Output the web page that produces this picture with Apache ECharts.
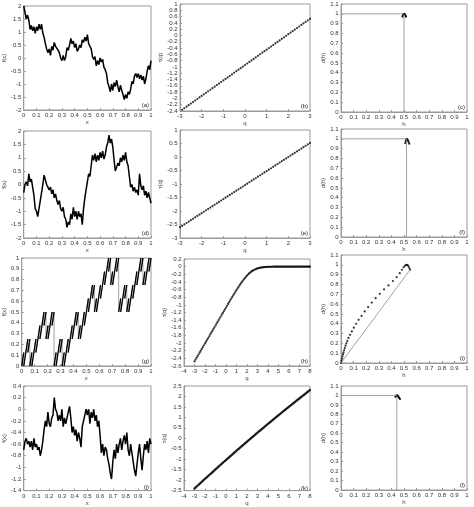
<!DOCTYPE html>
<html><head><meta charset="utf-8">
<script src="https://cdn.jsdelivr.net/npm/echarts/dist/echarts.min.js"></script>
<style>html,body{margin:0;padding:0;background:#fff}#c{width:474px;height:507px}</style>
</head><body><div id="c"></div><script>
// ---------- data ----------
const xFine = [0,0.01,0.02,0.03,0.04,0.05,0.06,0.07,0.08,0.09,0.1,0.11,0.12,0.13,0.14,0.15,0.16,0.17,0.18,0.19,0.2,0.21,0.22,0.23,0.24,0.25,0.26,0.27,0.28,0.29,0.3,0.31,0.32,0.33,0.34,0.35,0.36,0.37,0.38,0.39,0.4,0.41,0.42,0.43,0.44,0.45,0.46,0.47,0.48,0.49,0.5,0.51,0.52,0.53,0.54,0.55,0.56,0.57,0.58,0.59,0.6,0.61,0.62,0.63,0.64,0.65,0.66,0.67,0.68,0.69,0.7,0.71,0.72,0.73,0.74,0.75,0.76,0.77,0.78,0.79,0.8,0.81,0.82,0.83,0.84,0.85,0.86,0.87,0.88,0.89,0.9,0.91,0.92,0.93,0.94,0.95,0.96,0.97,0.98,0.99,1];
const fA = [2.0,1.75,1.5,1.65,1.45,1.1,1.25,1.05,1.2,0.95,1.2,1.05,1.3,1.1,1.3,0.95,0.8,0.55,0.35,0.2,0.35,0.1,0.45,0.3,0.6,0.45,0.5,0.3,0.2,0.0,-0.1,0.1,-0.1,0.05,0.4,0.3,0.5,0.75,0.55,0.65,0.4,0.55,0.25,0.35,0.5,0.4,0.7,0.6,0.8,0.65,0.9,0.55,0.6,0.35,0.05,-0.05,0.05,-0.3,-0.1,-0.25,0.0,-0.15,-0.05,-0.35,-0.45,-0.6,-0.95,-1.1,-1.3,-1.0,-1.25,-0.95,-1.1,-0.85,-1.1,-1.3,-1.05,-1.25,-1.4,-1.6,-1.4,-1.55,-1.3,-1.4,-1.2,-0.9,-1.0,-0.7,-0.6,-0.75,-0.6,-0.8,-0.65,-0.85,-0.7,-1.0,-0.8,-0.5,-0.3,-0.45,-0.1];
const fD = [-0.3,0.0,0.1,-0.05,0.4,0.1,0.2,-0.1,-0.4,-0.9,-1.0,-1.2,-0.9,-0.6,-0.3,0.0,0.35,0.3,0.0,-0.1,-0.2,-0.1,-0.35,-0.2,-0.5,-0.35,-0.6,-0.75,-0.6,-0.9,-1.0,-0.85,-1.2,-1.3,-1.6,-1.4,-1.5,-1.1,-1.3,-0.85,-1.2,-1.0,-1.3,-1.0,-1.2,-1.1,-1.5,-0.9,-0.5,-0.2,0.1,0.4,0.3,0.7,1.1,0.9,1.15,0.85,1.1,0.9,1.2,1.0,1.25,0.95,1.1,1.4,1.55,1.85,1.55,1.7,1.4,0.9,0.5,0.65,0.8,0.7,1.0,0.85,1.1,0.9,1.2,0.85,0.7,0.3,-0.1,0.0,-0.25,-0.1,-0.3,-0.2,-0.4,0.4,-0.05,-0.2,-0.05,-0.4,-0.25,-0.5,-0.3,-0.5,-0.7];
const fJ = [-0.7,-0.55,-0.5,-0.6,-0.55,-0.65,-0.55,-0.7,-0.5,-0.65,-0.6,-0.7,-0.65,-0.8,-0.7,-0.55,-0.35,-0.2,-0.3,-0.05,-0.25,-0.3,-0.15,-0.1,0.2,0.0,-0.05,-0.2,-0.1,-0.2,0.0,-0.3,-0.15,-0.25,-0.15,-0.05,0.05,-0.15,-0.4,-0.3,-0.45,-0.35,-0.55,-0.4,-0.5,-0.65,-0.3,-0.2,-0.1,0.0,-0.1,0.0,-0.25,-0.05,-0.15,0.0,-0.2,-0.1,-0.3,-0.2,-0.45,-0.75,-0.6,-0.8,-0.65,-0.7,-0.85,-0.95,-1.1,-1.2,-0.9,-0.7,-0.85,-0.6,-0.75,-0.6,-0.5,-0.7,-0.55,-0.45,-0.6,-0.4,-0.7,-0.8,-0.6,-0.75,-0.9,-1.05,-1.15,-0.95,-0.75,-0.6,-0.85,-1.05,-0.8,-0.6,-0.7,-0.55,-0.75,-0.5,-0.6];
// panel (g): column edges and the low / high end of each dark bar
const gX = [0,0.0156,0.0313,0.0469,0.0625,0.0781,0.0938,0.1094,0.125,0.1406,0.1563,0.1719,0.1875,0.2031,0.2188,0.2344,0.25,0.2656,0.2813,0.2969,0.3125,0.3281,0.3438,0.3594,0.375,0.3906,0.4063,0.4219,0.4375,0.4531,0.4688,0.4844,0.5,0.5156,0.5313,0.5469,0.5625,0.5781,0.5938,0.6094,0.625,0.6406,0.6563,0.6719,0.6875,0.7031,0.7188,0.7344,0.75,0.7656,0.7813,0.7969,0.8125,0.8281,0.8438,0.8594,0.875,0.8906,0.9063,0.9219,0.9375,0.9531,0.9688,0.9844,1];
const gLow = [0,0,0.125,0.125,0,0,0.125,0.125,0.25,0.25,0.375,0.375,0.25,0.25,0.375,0.375,
              0,0,0.125,0.125,0,0,0.125,0.125,0.25,0.25,0.375,0.375,0.25,0.25,0.375,0.375,
              0.5,0.5,0.625,0.625,0.5,0.5,0.625,0.625,0.75,0.75,0.875,0.875,0.75,0.75,0.875,0.875,
              0.5,0.5,0.625,0.625,0.5,0.5,0.625,0.625,0.75,0.75,0.875,0.875,0.75,0.75,0.875,0.875];
const gHigh = [0.125,0.125,0.25,0.25,0.125,0.125,0.25,0.25,0.375,0.375,0.5,0.5,0.375,0.375,0.5,0.5,
               0.125,0.125,0.25,0.25,0.125,0.125,0.25,0.25,0.375,0.375,0.5,0.5,0.375,0.375,0.5,0.5,
               0.625,0.625,0.75,0.75,0.625,0.625,0.75,0.75,0.875,0.875,1,1,0.875,0.875,1,1,
               0.625,0.625,0.75,0.75,0.625,0.625,0.75,0.75,0.875,0.875,1,1,0.875,0.875,1,1];
// q values
const qLong = [-3,-2.9,-2.8,-2.7,-2.6,-2.5,-2.4,-2.3,-2.2,-2.1,-2,-1.9,-1.8,-1.7,-1.6,-1.5,-1.4,-1.3,-1.2,-1.1,-1,-0.9,-0.8,-0.7,-0.6,-0.5,-0.4,-0.3,-0.2,-0.1,0,0.1,0.2,0.3,0.4,0.5,0.6,0.7,0.8,0.9,1,1.1,1.2,1.3,1.4,1.5,1.6,1.7,1.8,1.9,2,2.1,2.2,2.3,2.4,2.5,2.6,2.7,2.8,2.9,3,3.1,3.2,3.3,3.4,3.5,3.6,3.7,3.8,3.9,4,4.1,4.2,4.3,4.4,4.5,4.6,4.7,4.8,4.9,5,5.1,5.2,5.3,5.4,5.5,5.6,5.7,5.8,5.9,6,6.1,6.2,6.3,6.4,6.5,6.6,6.7,6.8,6.9,7,7.1,7.2,7.3,7.4,7.5,7.6,7.7,7.8,7.9,8];
const qShort = qLong.slice(0, 61);
const tauB = [-2.410,-2.361,-2.312,-2.263,-2.214,-2.165,-2.116,-2.067,-2.018,-1.969,-1.920,-1.871,-1.822,-1.773,-1.724,-1.675,-1.626,-1.577,-1.528,-1.479,-1.430,-1.381,-1.332,-1.283,-1.234,-1.185,-1.136,-1.087,-1.038,-0.989,-0.940,-0.891,-0.842,-0.793,-0.744,-0.695,-0.646,-0.597,-0.548,-0.499,-0.450,-0.401,-0.352,-0.303,-0.254,-0.205,-0.156,-0.107,-0.058,-0.009,0.040,0.089,0.138,0.187,0.236,0.285,0.334,0.383,0.432,0.481,0.530];
const tauE = [-2.600,-2.548,-2.496,-2.444,-2.392,-2.340,-2.288,-2.236,-2.184,-2.132,-2.080,-2.028,-1.976,-1.924,-1.872,-1.820,-1.768,-1.716,-1.664,-1.612,-1.560,-1.508,-1.456,-1.404,-1.352,-1.300,-1.248,-1.196,-1.144,-1.092,-1.040,-0.988,-0.936,-0.884,-0.832,-0.780,-0.728,-0.676,-0.624,-0.572,-0.520,-0.468,-0.416,-0.364,-0.312,-0.260,-0.208,-0.156,-0.104,-0.052,0.000,0.052,0.104,0.156,0.208,0.260,0.312,0.364,0.416,0.468,0.520];
const tauH = [-2.480,-2.433,-2.386,-2.339,-2.292,-2.245,-2.198,-2.151,-2.104,-2.057,-2.010,-1.963,-1.916,-1.869,-1.822,-1.775,-1.728,-1.681,-1.634,-1.587,-1.540,-1.493,-1.446,-1.399,-1.352,-1.305,-1.258,-1.211,-1.164,-1.117,-1.070,-1.023,-0.976,-0.929,-0.882,-0.836,-0.790,-0.745,-0.700,-0.656,-0.612,-0.569,-0.527,-0.486,-0.446,-0.407,-0.369,-0.333,-0.298,-0.265,-0.234,-0.205,-0.178,-0.154,-0.132,-0.113,-0.096,-0.081,-0.068,-0.057,-0.047,-0.039,-0.032,-0.026,-0.021,-0.017,-0.014,-0.011,-0.009,-0.007,-0.006,-0.005,-0.004,-0.003,-0.003,-0.002,-0.002,-0.002,-0.001,-0.001,-0.001,-0.001,-0.001,-0.001,-0.001,-0.001,0,0,0,0,0,0,0,0,0,0,0,0,0,0,0,0,0,0,0,0,0,0,0,0,0];
const tauK = [-2.400,-2.354,-2.308,-2.261,-2.215,-2.169,-2.123,-2.077,-2.030,-1.984,-1.938,-1.893,-1.847,-1.802,-1.756,-1.711,-1.665,-1.620,-1.574,-1.529,-1.483,-1.438,-1.393,-1.349,-1.304,-1.259,-1.214,-1.169,-1.125,-1.080,-1.035,-0.991,-0.947,-0.903,-0.858,-0.814,-0.770,-0.726,-0.681,-0.637,-0.593,-0.550,-0.506,-0.463,-0.419,-0.376,-0.333,-0.289,-0.246,-0.202,-0.159,-0.116,-0.073,-0.031,0.012,0.055,0.098,0.141,0.183,0.226,0.269,0.311,0.353,0.395,0.437,0.479,0.522,0.564,0.606,0.648,0.690,0.732,0.773,0.815,0.856,0.898,0.939,0.981,1.022,1.064,1.105,1.146,1.186,1.227,1.268,1.309,1.349,1.390,1.431,1.471,1.512,1.552,1.592,1.632,1.672,1.712,1.752,1.792,1.832,1.872,1.912,1.951,1.991,2.030,2.070,2.109,2.148,2.188,2.227,2.267,2.306];
// spectra
const hC = [0.488,0.490,0.493,0.496,0.500,0.504,0.508,0.511,0.514,0.516];
const dC = [0.970,0.980,0.990,0.996,1.000,0.998,0.993,0.985,0.977,0.970];
const refCx = [0,0.5,0.5], refCy = [1,1,0];
const hF = [0.510,0.513,0.516,0.519,0.522,0.526,0.530,0.534,0.538,0.542];
const dF = [0.955,0.970,0.982,0.991,0.996,0.995,0.988,0.976,0.962,0.950];
const refFx = [0,0.52,0.52], refFy = [1,1,0];
const hI = [0,0.004,0.008,0.012,0.016,0.02,0.025,0.03,0.036,0.043,0.05,0.06,0.072,0.086,0.102,0.12,0.14,0.163,0.188,0.215,0.244,0.275,0.308,0.342,0.377,0.412,0.442,0.466,0.484,0.497,0.507,0.515,0.523,0.53,0.537,0.543,0.548];
const dI = [0,0.022,0.044,0.066,0.087,0.108,0.13,0.152,0.176,0.2,0.225,0.255,0.287,0.322,0.36,0.4,0.44,0.48,0.525,0.57,0.615,0.66,0.705,0.75,0.79,0.835,0.875,0.915,0.95,0.975,0.99,0.998,1.0,0.995,0.982,0.965,0.95];
const refIx = [0,0.548], refIy = [0,0.95];
const hL = [0.432,0.436,0.440,0.444,0.448,0.452,0.456,0.460,0.464,0.468];
const dL = [0.985,0.993,0.998,1.000,0.998,0.993,0.986,0.978,0.970,0.962];
const refLx = [0,0.443,0.443], refLy = [1,1,0];

// ---------- chart ----------
const pairs = (xs, ys) => xs.map((x, i) => [x, ys[i]]);
const FONT = 'Liberation Sans';
const AX = '#9a9a9a';
function axis(kind, gi, min, max, interval, name, gap) {
  return {
    type: 'value', gridIndex: gi, min, max, interval, name,
    nameLocation: 'middle', nameGap: gap,
    nameTextStyle: {fontSize: 6, color: '#444', fontFamily: FONT},
    axisLine: {show: true, onZero: false, lineStyle: {color: AX, width: 1}},
    axisTick: {show: true, inside: true, length: 2, lineStyle: {color: AX}},
    axisLabel: {fontSize: 6, color: '#333', margin: 2.5, fontFamily: FONT},
    splitLine: {show: false}
  };
}
const panels = [
  {g:[21,6,130,104],   x:[0,1,0.1,'x',8],   y:[-2,2,0.5,'f(x)',13]},
  {g:[180,4,130,107],  x:[-3,3,1,'q',8],    y:[-2.4,1,0.2,'τ(q)',15]},
  {g:[341,4,126,108],  x:[0,1,0.1,'h',8],   y:[0,1.1,0.1,'d(h)',11]},
  {g:[21,131,130,107], x:[0,1,0.1,'x',8],   y:[-2,2,0.5,'f(x)',13]},
  {g:[180,130,130,108],x:[-3,3,1,'q',8],    y:[-3,1,0.5,'τ(q)',15]},
  {g:[341,129,126,108],x:[0,1,0.1,'h',8],   y:[0,1.1,0.1,'d(h)',11]},
  {g:[21,258,130,108], x:[0,1,0.1,'x',8],   y:[0,1,0.1,'f(x)',13]},
  {g:[184,259,126,107],x:[-4,8,1,'q',8],    y:[-2.6,0.2,0.2,'τ(q)',15]},
  {g:[341,255,126,108],x:[0,1,0.1,'h',8],   y:[0,1.1,0.1,'d(h)',11]},
  {g:[21,386,130,106], x:[0,1,0.1,'x',8],   y:[-1.4,0.4,0.2,'f(x)',13]},
  {g:[184,386,126,107],x:[-4,8,1,'q',8],    y:[-2.5,2.5,0.5,'τ(q)',15]},
  {g:[341,386,126,104],x:[0,1,0.1,'h',8],   y:[0,1.1,0.1,'d(h)',11]}
];
const letters = ['(a)','(b)','(c)','(d)','(e)','(f)','(g)','(h)','(i)','(j)','(k)','(l)'];
const grid = panels.map(p => ({left:p.g[0], top:p.g[1], width:p.g[2], height:p.g[3], show:true, borderColor:AX, borderWidth:1}));
const xAxis = panels.map((p,i) => axis('x', i, ...p.x));
const yAxis = panels.map((p,i) => axis('y', i, ...p.y));

const curve = (i, data, w) => ({type:'line', xAxisIndex:i, yAxisIndex:i, data, showSymbol:false, silent:true, animation:false,
  lineStyle:{color:'#000', width:w}});
const dots = (i, data, s) => ({type:'scatter', xAxisIndex:i, yAxisIndex:i, data, symbolSize:s, silent:true, animation:false,
  itemStyle:{color:'#000'}});
const ref = (i, data) => ({type:'line', xAxisIndex:i, yAxisIndex:i, data, showSymbol:false, silent:true, animation:false,
  lineStyle:{color:'#8a8a8a', width:0.8}});

// panel g building: gray connecting line through all bars + dark bars
const gBars = [], gPath = [];
gLow.forEach((lo, k) => {
  gBars.push([gX[k], lo], [gX[k+1], gHigh[k]], null);
  gPath.push([gX[k], lo], [gX[k+1], gHigh[k]]);
});

const series = [
  curve(0, pairs(xFine, fA), 1.5),
  dots(1, pairs(qShort, tauB), 2.2),
  ref(2, pairs(refCx, refCy)), dots(2, pairs(hC, dC), 2.2),
  curve(3, pairs(xFine, fD), 1.5),
  dots(4, pairs(qShort, tauE), 2.2),
  ref(5, pairs(refFx, refFy)), dots(5, pairs(hF, dF), 2.2),
  ref(6, gPath), {...curve(6, gBars, 1.3), connectNulls:false},
  dots(7, pairs(qLong, tauH), 2.2),
  ref(8, pairs(refIx, refIy)), dots(8, pairs(hI, dI), 2.2),
  curve(9, pairs(xFine, fJ), 1.5),
  dots(10, pairs(qLong, tauK), 2.4),
  ref(11, pairs(refLx, refLy)), dots(11, pairs(hL, dL), 2.2)
];
const graphic = panels.map((p,i) => ({type:'text', x:p.g[0]+p.g[2]-2, y:p.g[1]+p.g[3]-2,
  style:{text:letters[i], fontSize:6, fill:'#222', fontFamily:FONT, textAlign:'right', textVerticalAlign:'bottom'}}));

const chart = echarts.init(document.getElementById('c'), null, {renderer:'canvas'});
chart.setOption({animation:false, backgroundColor:'#fff', grid, xAxis, yAxis, series, graphic});
</script></body></html>
